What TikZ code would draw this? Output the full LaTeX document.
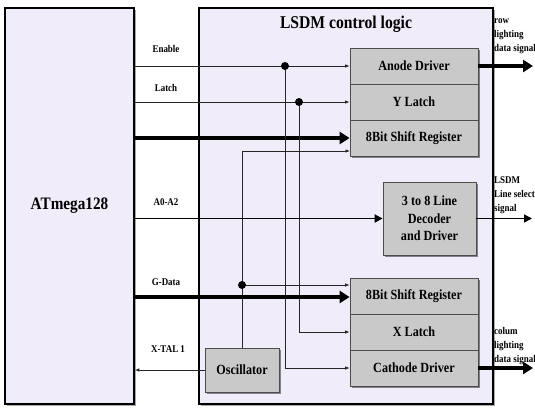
\documentclass[tikz,border=0pt]{standalone}
\usepackage{fontspec}
\setmainfont{Liberation Serif}[FakeStretch=0.87]
\usetikzlibrary{arrows.meta,shadows}
\definecolor{lav}{RGB}{241,236,249}
\definecolor{blockgray}{RGB}{201,201,201}
\begin{document}
\begin{tikzpicture}[x=1pt,y=-1pt,
  big/.style={draw=black, line width=1.6pt, fill=lav, inner sep=0pt,
    drop shadow={shadow xshift=1.5pt, shadow yshift=-1.5pt, opacity=0.35, fill=black}},
  blk/.style={draw=black!70, line width=0.8pt, fill=blockgray, minimum width=128pt,
    minimum height=36pt, inner sep=0pt, font=\fontsize{14}{16}\selectfont\bfseries,
    drop shadow={shadow xshift=2pt, shadow yshift=-2pt, opacity=0.45, fill=black}},
  lbl/.style={font=\fontsize{10.3}{12}\selectfont\bfseries, inner sep=0pt},
  sig/.style={font=\fontsize{10.3}{14}\selectfont\bfseries, align=left, anchor=west, inner sep=0pt},
  wire/.style={draw=black!85, line width=0.7pt},
  thinarrow/.style={wire, -{Latex[length=4.5pt,width=3.5pt]}},
  thickarrow/.style={draw=black, line width=4pt, -{Triangle[length=10pt,width=12pt]}},
  medarrow/.style={draw=black, line width=1.8pt, -{Triangle[length=8pt,width=8pt]}},
  dot/.style={circle, fill=black, inner sep=0pt, minimum size=8pt}]

\useasboundingbox (0,0) rectangle (535,408);
\fill[white] (0,0) rectangle (535,408);

% main boxes
\node[big, minimum width=129pt, minimum height=396pt,
      font=\fontsize{17.5}{20}\selectfont\bfseries] (atm) at (69.5,206) {ATmega128};
\node[big, minimum width=294pt, minimum height=396pt] (lsdm) at (346,206) {};
\node[font=\fontsize{18}{20}\selectfont\bfseries] (title) at (346,24) {LSDM control logic};

% named coordinates
\coordinate (jE) at (285,66);
\coordinate (jL) at (299,102);
\coordinate (jG) at (242,285);
\coordinate (sr1in) at (350,151);
\coordinate (gdata) at (134,297);
\coordinate (anodeOut) at (533,66);
\coordinate (decOut) at (532,218.5);
\coordinate (cathOut) at (533,368);

% blocks
\node[blk] (anode) at (414,66) {Anode Driver};
\node[blk] (ylatch) at (414,102) {Y Latch};
\node[blk] (sr1) at (414,138) {8Bit Shift Register};
\node[blk, minimum width=93pt, minimum height=73pt, align=center,
      font=\fontsize{14}{17.5}\selectfont\bfseries] (dec) at (429.5,218.5) {3 to 8 Line\\Decoder\\and Driver};
\node[blk] (sr2) at (414,296) {8Bit Shift Register};
\node[blk] (xlatch) at (414,332) {X Latch};
\node[blk] (cath) at (414,368) {Cathode Driver};
\node[blk, minimum width=74pt, minimum height=44pt] (osc) at (242,370) {Oscillator};

% connectors
\draw[thinarrow] (atm.east |- anode.west) -- (anode.west);
\draw[thinarrow] (atm.east |- ylatch.west) -- (ylatch.west);
\draw[thickarrow] (atm.east |- sr1.west) -- (sr1.west);
\draw[thinarrow] (osc.north) |- (sr1in);
\draw[thinarrow] (jE) |- (cath.west);
\draw[thinarrow] (jL) |- (xlatch.west);
\draw[thinarrow] (jG) -- (sr2.west |- jG);
\draw[thickarrow] (gdata) -- (sr2.west |- gdata);
\draw[medarrow] (atm.east |- dec.west) -- (dec.west);
\draw[thinarrow] (osc.west) -- (atm.east |- osc.west);
\draw[thickarrow] (anode.east) -- (anodeOut);
\draw[thickarrow] (cath.east) -- (cathOut);
\draw[medarrow, line width=1.5pt] (dec.east) -- (decOut);

% junction dots
\node[dot] (dE) at (jE) {};
\node[dot] (dL) at (jL) {};
\node[dot] (dG) at (jG) {};

% left labels
\node[lbl] (lEnable) at (166,49) {Enable};
\node[lbl] (lLatch) at (166,88) {Latch};
\node[lbl] (lA) at (166,202) {A0-A2};
\node[lbl] (lG) at (166,282) {G-Data};
\node[lbl] (lX) at (168,349) {X-TAL 1};

% right labels
\node[sig] (rowlbl) at (494,36) {row\\lighting\\data signal};
\node[sig] (linelbl) at (494,195) {LSDM\\Line select\\signal};
\node[sig] (collbl) at (494,346) {colum\\lighting\\data signal};
\end{tikzpicture}
\end{document}
